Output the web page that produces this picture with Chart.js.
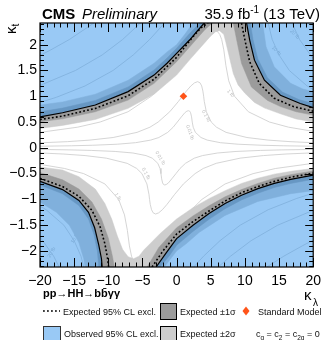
<!DOCTYPE html>
<html>
<head>
<meta charset="utf-8">
<script src="https://cdn.jsdelivr.net/npm/chart.js@4.4.0/dist/chart.umd.min.js"></script>
<style>
  html, body { margin: 0; padding: 0; background: #fff; }
  #wrap { width: 327px; height: 340px; }
</style>
</head>
<body>
<div id="wrap"><canvas id="chart" width="327" height="340"></canvas></div>
<script>
// ---- axis ticks ----
const xTickValues = [-20, -15, -10, -5, 0, 5, 10, 15, 20];
const xTickLabels = ["\u221220", "\u221215", "\u221210", "\u22125", "0", "5", "10", "15", "20"];
const yTickValues = [-2, -1.5, -1, -0.5, 0, 0.5, 1, 1.5, 2];
const yTickLabels = ["\u22122", "\u22121.5", "\u22121", "\u22120.5", "0", "0.5", "1", "1.5", "2"];

// ---- observed 95% CL exclusion boundaries [kappa_lambda, kappa_t] ----
const obsUL = [[-20,0.60],[-16.7,0.68],[-11.9,0.83],[-7.1,1.09],[-3.3,1.41],[-1.4,1.64],[0,1.83],[1.9,2.09],[3.0,2.26],[4.05,2.42]];
const obsUR = [[10.24,2.42],[10.7,2.09],[11.4,1.70],[12.86,1.31],[15.2,1.02],[18.1,0.86],[20,0.78]];
const obsLL = [[-20,-0.65],[-16.7,-0.81],[-14.3,-1.02],[-12.9,-1.25],[-12.0,-1.55],[-11.4,-1.88],[-11.0,-2.15],[-10.9,-2.31]];
const obsLR = [[-3.0,-2.31],[-1.5,-2.03],[0,-1.76],[2.4,-1.50],[4.8,-1.27],[7.1,-1.08],[9.5,-0.92],[11.9,-0.79],[14.3,-0.69],[16.7,-0.61],[20,-0.53]];

// ---- expected 95% CL exclusion (dotted) ----
const expUL = [[-20,0.55],[-16.7,0.615],[-11.9,0.765],[-7.1,1.01],[-3.3,1.33],[0,1.755],[2.4,2.155],[3.6,2.33],[4.6,2.42]];
const expUR = [[9.5,2.42],[10.0,2.09],[10.7,1.67],[12.1,1.25],[14.3,0.96],[17.1,0.80],[20,0.71]];
const expLL = [[-20,-0.59],[-16.7,-0.75],[-14.3,-0.94],[-12.4,-1.21],[-11.2,-1.53],[-10.5,-1.86],[-10.1,-2.15],[-9.95,-2.31]];
const expLR = [[-3.6,-2.31],[-2.0,-2.0],[0,-1.67],[2.4,-1.43],[4.8,-1.22],[7.1,-1.03],[9.5,-0.87],[11.9,-0.75],[14.3,-0.65],[16.7,-0.57],[20,-0.49]];

// ---- expected +-1 sigma edges ----
const in1UL = [[-20,0.505],[-16.7,0.563],[-11.9,0.70],[-7.1,0.926],[-3.3,1.25],[0,1.67],[2.6,2.06],[4.2,2.3],[5.24,2.42]];
const out1UL = [[-20,0.70],[-16.7,0.77],[-11.9,0.92],[-7.1,1.18],[-3.3,1.51],[-1.4,1.74],[0,1.93],[1.8,2.2],[3.4,2.42]];
const in1UR = [[8.3,2.42],[8.8,2.09],[9.5,1.64],[10.95,1.18],[13.3,0.92],[15.2,0.80],[17.5,0.70],[20,0.635]];
const out1UR = [[10.8,2.42],[11.2,2.09],[11.9,1.72],[13.3,1.36],[15.5,1.08],[18,0.93],[20,0.86]];
const in1LL = [[-20,-0.48],[-16.7,-0.62],[-14.3,-0.80],[-12.4,-1.05],[-11.0,-1.38],[-10.0,-1.75],[-9.4,-2.1],[-9.1,-2.31]];
const out1LL = [[-20,-0.72],[-16.7,-0.89],[-14.3,-1.12],[-12.9,-1.38],[-12.1,-1.68],[-11.6,-2.0],[-11.4,-2.31]];
const in1LR = [[-4.3,-2.31],[-2.6,-1.93],[0,-1.55],[2.4,-1.32],[4.8,-1.12],[7.1,-0.95],[9.5,-0.81],[11.9,-0.69],[14.3,-0.59],[16.7,-0.52],[20,-0.45]];
const out1LR = [[-2.4,-2.31],[-1.0,-2.08],[0,-1.89],[2.4,-1.62],[4.8,-1.38],[7.1,-1.18],[9.5,-1.01],[11.9,-0.88],[14.3,-0.77],[16.7,-0.69],[20,-0.61]];

// ---- expected +-2 sigma edges ----
const in2Up = [[-20,0.377],[-16.7,0.435],[-11.9,0.55],[-7.1,0.765],[-3.3,1.04],[0,1.41],[2,1.72],[3.8,1.99],[5.0,2.17],[5.7,2.25],[6.3,2.27],[6.9,2.2],[7.2,2.05],[7.6,1.83],[8.3,1.44],[9.0,1.22],[10.0,1.06],[11.4,0.88],[12.9,0.77],[15.2,0.66],[17.5,0.56],[20,0.50]];
const in2Low = [[-20,-0.37],[-16.7,-0.43],[-14.3,-0.56],[-11.9,-0.80],[-10.5,-1.08],[-9.5,-1.38],[-8.7,-1.70],[-7.9,-1.97],[-7.1,-2.11],[-6.3,-2.15],[-5.5,-2.10],[-4.8,-1.98],[-3.6,-1.82],[-2.4,-1.66],[0,-1.38],[2.4,-1.16],[4.8,-0.98],[7.1,-0.83],[9.5,-0.69],[11.9,-0.59],[14.3,-0.51],[17,-0.45],[20,-0.40]];
const out2UL = [[-20,0.83],[-16.7,0.89],[-11.9,1.04],[-7.1,1.31],[-3.3,1.64],[-1.4,1.86],[0,2.0],[1.2,2.2],[2.4,2.42]];
const out2UR = [[12.6,2.42],[13.1,1.96],[14.3,1.57],[16.7,1.25],[18.5,1.14],[20,1.09]];
const out2LL = [[-20,-1.05],[-17.6,-1.25],[-15.7,-1.50],[-14.3,-1.84],[-13.6,-2.15],[-13.4,-2.31]];
const out2LR = [[-1.8,-2.31],[0,-2.0],[1.4,-1.86],[3.3,-1.64],[7.1,-1.31],[11.9,-1.04],[16.7,-0.89],[20,-0.83]];

// ---- cross section iso-lines (fb) ----
const c001Up = [[-20,0.031],[-15.4,0.04],[-12.3,0.05],[-8.7,0.07],[-6.0,0.1],[-3.8,0.15],[-2.6,0.2],[-1.3,0.3],[-0.5,0.4],[0.1,0.5],[0.7,0.6],[1.2,0.68],[1.5,0.71],[1.73,0.72],[1.92,0.71],[2.05,0.68],[2.19,0.6],[2.29,0.5],[2.43,0.4],[2.75,0.3],[3.57,0.2],[4.49,0.15],[6.4,0.1],[9.0,0.07],[12.5,0.05],[15.6,0.04],[20,0.031]];
const c001Low = [[-20,-0.031],[-15.6,-0.04],[-12.5,-0.05],[-9.0,-0.07],[-6.4,-0.1],[-4.49,-0.15],[-3.57,-0.2],[-2.75,-0.3],[-2.43,-0.4],[-2.29,-0.5],[-2.19,-0.6],[-2.05,-0.68],[-1.92,-0.71],[-1.73,-0.72],[-1.5,-0.71],[-1.2,-0.68],[-0.7,-0.6],[-0.1,-0.5],[0.5,-0.4],[1.3,-0.3],[2.6,-0.2],[3.8,-0.15],[6.0,-0.1],[8.7,-0.07],[12.3,-0.05],[15.4,-0.04],[20,-0.031]];
const c01Up = [[-20,0.097],[-16.0,0.12],[-12.7,0.15],[-9.3,0.2],[-5.8,0.3],[-3.9,0.4],[-2.7,0.5],[-1.0,0.7],[0.27,0.9],[0.85,1.0],[1.43,1.1],[2.09,1.2],[2.62,1.26],[3.08,1.283],[3.43,1.26],[3.67,1.2],[3.85,1.1],[3.96,1.0],[4.05,0.9],[4.35,0.7],[5.07,0.5],[5.84,0.4],[7.24,0.3],[10.3,0.2],[13.4,0.15],[16.6,0.12],[20,0.099]];
const c01Low = [[-20,-0.099],[-16.6,-0.12],[-13.4,-0.15],[-10.3,-0.2],[-7.24,-0.3],[-5.84,-0.4],[-5.07,-0.5],[-4.35,-0.7],[-4.05,-0.9],[-3.96,-1.0],[-3.85,-1.1],[-3.67,-1.2],[-3.43,-1.26],[-3.08,-1.283],[-2.62,-1.26],[-2.09,-1.2],[-1.43,-1.1],[-0.85,-1.0],[-0.27,-0.9],[1.0,-0.7],[2.7,-0.5],[3.9,-0.4],[5.8,-0.3],[9.3,-0.2],[12.7,-0.15],[16.0,-0.12],[20,-0.097]];
const c1Up = [[-20,0.30],[-14.5,0.4],[-11.2,0.5],[-7.1,0.7],[-3.7,1.0],[-1.4,1.3],[0.5,1.6],[2.2,1.9],[3.5,2.1],[4.25,2.2],[4.9,2.26],[5.47,2.28],[5.94,2.26],[6.31,2.2],[6.6,2.1],[6.91,1.9],[7.21,1.6],[7.63,1.3],[8.48,1.0],[10.5,0.7],[13.6,0.5],[16.4,0.4],[20,0.32]];
const c1Low = [[-20,-0.32],[-16.4,-0.4],[-13.6,-0.5],[-10.5,-0.7],[-8.48,-1.0],[-7.63,-1.3],[-7.21,-1.6],[-6.91,-1.9],[-6.6,-2.1],[-6.31,-2.2],[-5.94,-2.26],[-5.47,-2.28],[-4.9,-2.26],[-4.25,-2.2],[-3.5,-2.1],[-2.2,-1.9],[-0.5,-1.6],[1.4,-1.3],[3.7,-1.0],[7.1,-0.7],[11.2,-0.5],[14.5,-0.4],[20,-0.30]];
const c10UL = [[-20,0.88],[-17.6,0.98],[-13.4,1.2],[-9.3,1.5],[-6.35,1.8],[-3.95,2.1],[-1.76,2.42]];
const c10UR = [[13.4,2.42],[14.0,2.1],[15.0,1.8],[16.5,1.5],[19.1,1.2],[20,1.13]];
const c10LL = [[-20,-1.13],[-19.1,-1.2],[-16.5,-1.5],[-15.0,-1.8],[-14.0,-2.1],[-13.6,-2.31]];
const c10LR = [[2.5,-2.31],[3.95,-2.1],[6.35,-1.8],[9.3,-1.5],[13.4,-1.2],[17.6,-0.98],[20,-0.88]];
const c20UL = [[-20,1.21],[-14.8,1.5],[-10.9,1.8],[-7.9,2.1],[-5.3,2.42]];
const c20UR = [[16.9,2.42],[18.0,2.1],[19.6,1.8],[20,1.73]];
const c20LL = [[-20,-1.73],[-19.6,-1.8],[-18.0,-2.1],[-17.2,-2.31]];
const c20LR = [[6.1,-2.31],[7.9,-2.1],[10.9,-1.8],[14.8,-1.5],[20,-1.21]];
const c50UL = [[-20,1.79],[-18.4,1.9],[-15.7,2.1],[-12.1,2.42]];
const c50LR = [[13.2,-2.31],[15.7,-2.1],[18.4,-1.9],[20,-1.79]];

// iso-line labels: text, kappa_lambda, kappa_t, angle (deg)
const isoLabels = [
  ["0.01 fb", 1.95, 0.30, 70], ["0.1 fb", 4.3, 0.62, 62], ["1 fb", 7.9, 1.05, 50],
  ["0.01 fb", -2.4, -0.20, 60], ["0.1 fb", -4.5, -0.50, 62], ["1 fb", -8.6, -0.95, 60],
  ["10 fb", 14.6, 1.88, 45], ["20 fb", 17.3, 2.2, 45],
  ["10 fb", -14.9, -1.75, -60], ["20 fb", -18.3, -2.03, -60]
];

const smPoint = [[1, 1]];

// ---- colours ----
const GRAY1 = "#9b9b9b";
const GRAY2 = "#cdcdcd";
const BLUE_FILL = "rgba(51,147,235,0.5)";
const BLUE_SOLID = "#99c9f5";
const SM_COLOR = "#ff5419";
const ISO_COLOR = "#d0d0d0";
const FONT = '"Liberation Sans", Arial, Helvetica, sans-serif';

const pts = arr => arr.map(([x, y]) => ({ x, y }));
const rev = arr => arr.slice().reverse();

// closed band polygons built from the edges above
const band2Up = [...in2Up, ...rev(out2UR), ...rev(out2UL)];
const band2Low = [...in2Low, ...rev(out2LR), ...rev(out2LL)];
const band1 = [
  [...in1UL, ...rev(out1UL)],
  [...in1UR, ...rev(out1UR)],
  [...in1LL, ...rev(out1LL)],
  [...in1LR, ...rev(out1LR)]
];

const datasets = [];
[c001Up, c001Low, c01Up, c01Low, c1Up, c1Low, c10UL, c10UR, c10LL, c10LR,
 c20UL, c20UR, c20LL, c20LR, c50UL, c50LR].forEach(c => datasets.push({
  data: pts(c), borderColor: ISO_COLOR, borderWidth: 0.9, fill: false, order: 10
}));
[band2Up, band2Low].forEach(b => datasets.push({
  data: pts(b), borderColor: GRAY2, borderWidth: 0.5, backgroundColor: GRAY2, fill: "shape", order: 9
}));
band1.forEach(b => datasets.push({
  data: pts(b), borderColor: GRAY1, borderWidth: 0.5, backgroundColor: GRAY1, fill: "shape", order: 8
}));
[[obsUL, "end"], [obsUR, "end"], [obsLL, "start"], [obsLR, "start"]].forEach(([o, f]) => datasets.push({
  data: pts(o), borderColor: "#000", borderWidth: 1.2, backgroundColor: BLUE_FILL, fill: f, order: 5
}));
[expUL, expUR, expLL, expLR].forEach(e => datasets.push({
  data: pts(e), borderColor: "#000", borderWidth: 1.6, borderDash: [1.8, 2.2], fill: false, order: 3
}));
datasets.push({
  data: pts(smPoint), showLine: false, pointStyle: "rectRot", pointRadius: 3.8,
  pointBackgroundColor: SM_COLOR, pointBorderColor: SM_COLOR, pointBorderWidth: 0, order: 1
});

function richText(ctx, x, y, parts) {
  // parts: [text, size, dy]
  for (const [t, size, dy] of parts) {
    ctx.font = `${size}px ${FONT}`;
    ctx.fillText(t, x, y + dy);
    x += ctx.measureText(t).width;
  }
  return x;
}

const paper = {
  id: "paper",
  beforeDraw(chart) {
    const { ctx } = chart;
    ctx.save();
    ctx.fillStyle = "#fff";
    ctx.fillRect(0, 0, chart.width, chart.height);
    ctx.restore();
  },
  beforeDatasetsDraw(chart) {
    const { ctx, chartArea: a, scales: { x, y } } = chart;
    ctx.save();
    ctx.beginPath();
    ctx.rect(a.left, a.top, a.width, a.height);
    ctx.clip();
    ctx.fillStyle = "#bdbdbd";
    ctx.font = `5px ${FONT}`;
    ctx.textAlign = "center";
    ctx.textBaseline = "middle";
    for (const [t, lx, ly, ang] of isoLabels) {
      ctx.save();
      ctx.translate(x.getPixelForValue(lx), y.getPixelForValue(ly));
      ctx.rotate(ang * Math.PI / 180);
      ctx.fillText(t, 0, 0);
      ctx.restore();
    }
    ctx.restore();
  },
  afterDatasetsDraw(chart) {
    const { ctx, chartArea: a, scales: { x, y } } = chart;
    ctx.save();
    ctx.strokeStyle = "#000";
    ctx.lineWidth = 1;
    ctx.beginPath();
    for (let v = -20; v <= 20; v++) {
      const px = Math.round(x.getPixelForValue(v)) + 0.5;
      const len = v % 5 === 0 ? 9 : 4.5;
      ctx.moveTo(px, a.bottom); ctx.lineTo(px, a.bottom - len);
      ctx.moveTo(px, a.top); ctx.lineTo(px, a.top + len);
    }
    for (let i = -23; i <= 24; i++) {
      const py = Math.round(y.getPixelForValue(i / 10)) + 0.5;
      const len = i % 5 === 0 ? 8 : 4;
      ctx.moveTo(a.left, py); ctx.lineTo(a.left + len, py);
      ctx.moveTo(a.right, py); ctx.lineTo(a.right - len, py);
    }
    ctx.stroke();
    ctx.lineWidth = 1.2;
    ctx.strokeRect(a.left, a.top, a.right - a.left, a.bottom - a.top);
    ctx.restore();
  },
  afterDraw(chart) {
    const { ctx } = chart;
    ctx.save();
    ctx.fillStyle = "#000";
    ctx.textBaseline = "alphabetic";

    // header
    ctx.font = `bold 15px ${FONT}`;
    ctx.fillText("CMS", 42, 19);
    ctx.font = `italic 15px ${FONT}`;
    ctx.fillText("Preliminary", 82, 19);
    ctx.textAlign = "right";
    ctx.font = `15px ${FONT}`;
    ctx.fillText(" (13 TeV)", 320, 19);
    const w1 = ctx.measureText(" (13 TeV)").width;
    ctx.font = `10px ${FONT}`;
    ctx.fillText("-1", 320 - w1, 13);
    const w2 = ctx.measureText("-1").width;
    ctx.font = `15px ${FONT}`;
    ctx.fillText("35.9 fb", 320 - w1 - w2, 19);
    ctx.textAlign = "left";

    // axis titles
    ctx.save();
    ctx.translate(16, 34);
    ctx.rotate(-Math.PI / 2);
    ctx.font = `15px ${FONT}`;
    ctx.fillText("\u03ba", 0, 0);
    const wk = ctx.measureText("\u03ba").width;
    ctx.font = `10px ${FONT}`;
    ctx.fillText("t", wk, 3);
    ctx.restore();
    ctx.font = `15px ${FONT}`;
    ctx.fillText("\u03ba", 304, 300);
    ctx.font = `10px ${FONT}`;
    ctx.fillText("\u03bb", 313, 306);

    // process label
    ctx.font = `bold 11px ${FONT}`;
    ctx.fillText("pp\u2192HH\u2192bb\u0304\u03b3\u03b3", 43, 297);

    // legend
    ctx.fillStyle = "#111";
    ctx.strokeStyle = "#000";
    ctx.lineWidth = 1.6;
    ctx.setLineDash([1.8, 2.2]);
    ctx.beginPath(); ctx.moveTo(43, 311); ctx.lineTo(60, 311); ctx.stroke();
    ctx.setLineDash([]);
    ctx.font = `9px ${FONT}`;
    ctx.fillText("Expected 95% CL excl.", 63, 315);
    ctx.fillText("Observed 95% CL excl.", 64, 337);
    ctx.fillText("Expected \u00b11\u03c3", 180, 315);
    ctx.fillText("Expected \u00b12\u03c3", 180, 337);
    ctx.fillText("Standard Model", 258, 315);
    richText(ctx, 256, 337, [["c", 9, 0], ["g", 6.5, 2.5], [" = c", 9, 0], ["2", 6.5, 2.5],
      [" = c", 9, 0], ["2g", 6.5, 2.5], [" = 0", 9, 0]]);

    ctx.lineWidth = 1;
    ctx.fillStyle = GRAY1;
    ctx.fillRect(160.5, 303.5, 16, 16); ctx.strokeRect(160.5, 303.5, 16, 16);
    ctx.fillStyle = GRAY2;
    ctx.fillRect(160.5, 326.5, 16, 16); ctx.strokeRect(160.5, 326.5, 16, 16);
    ctx.fillStyle = BLUE_SOLID;
    ctx.strokeStyle = "#333";
    ctx.fillRect(43.5, 326.5, 17, 16); ctx.strokeRect(43.5, 326.5, 17, 16);

    // SM marker in legend
    ctx.fillStyle = SM_COLOR;
    ctx.beginPath();
    ctx.moveTo(246, 306.5); ctx.lineTo(249.5, 311); ctx.lineTo(246, 315.5); ctx.lineTo(242.5, 311);
    ctx.closePath(); ctx.fill();
    ctx.restore();
  }
};

new Chart(document.getElementById("chart"), {
  type: "line",
  data: { datasets },
  options: {
    responsive: false,
    animation: false,
    events: [],
    devicePixelRatio: 1,
    layout: { padding: { top: 23, right: 7, left: 0, bottom: 0 } },
    elements: { point: { radius: 0 }, line: { tension: 0 } },
    plugins: { legend: { display: false }, tooltip: { enabled: false } },
    scales: {
      x: {
        type: "linear", min: -20, max: 20,
        grid: { display: false, drawTicks: false }, border: { display: false },
        afterBuildTicks: s => { s.ticks = xTickValues.map(v => ({ value: v })); },
        afterFit: s => { s.height = 73; },
        ticks: {
          autoSkip: false, maxRotation: 0, padding: 6, color: "#000",
          font: { family: FONT, size: 14 },
          callback: (v, i) => xTickLabels[i]
        }
      },
      y: {
        type: "linear", min: -2.31, max: 2.42,
        grid: { display: false, drawTicks: false }, border: { display: false },
        afterBuildTicks: s => { s.ticks = yTickValues.map(v => ({ value: v })); },
        afterFit: s => { s.width = 40; },
        ticks: {
          autoSkip: false, padding: 3, color: "#000",
          font: { family: FONT, size: 14 },
          callback: (v, i) => yTickLabels[i]
        }
      }
    }
  },
  plugins: [paper]
});
</script>
</body>
</html>
